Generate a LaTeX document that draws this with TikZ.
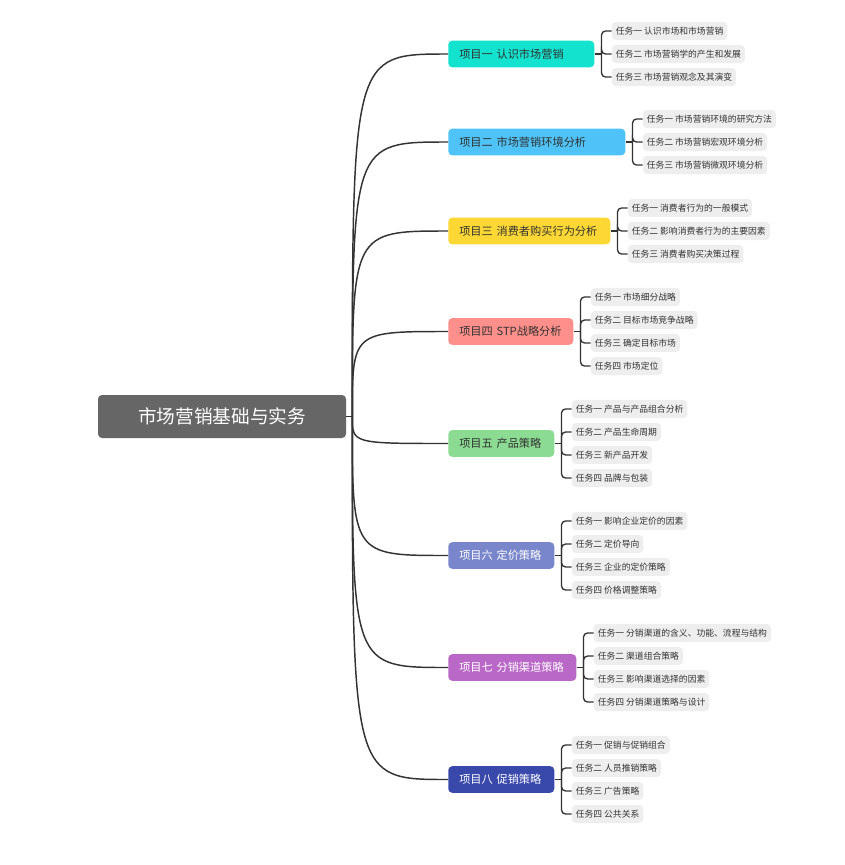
\documentclass[tikz,border=0pt]{standalone}
\usepackage{fontspec}
\setmainfont{Noto Sans CJK SC}
\usepackage{xcolor}
\usetikzlibrary{positioning}

\definecolor{rootgray}{HTML}{666666}
\definecolor{linegray}{HTML}{333333}
\definecolor{leafgray}{HTML}{EEEEEE}
\definecolor{cone}{HTML}{13E2CF}
\definecolor{ctwo}{HTML}{4FC3F7}
\definecolor{cthree}{HTML}{FDD835}
\definecolor{cfour}{HTML}{FF8F8A}
\definecolor{cfive}{HTML}{8BDB93}
\definecolor{csix}{HTML}{7986CB}
\definecolor{cseven}{HTML}{BA68C8}
\definecolor{ceight}{HTML}{3949AB}

\begin{document}
\begin{tikzpicture}[
    x=0.75pt, y=-0.75pt,
    rootbox/.style={rectangle, rounded corners=3pt, fill=rootgray, text=white, minimum width=186pt, minimum height=32.25pt, font=\fontsize{14pt}{16pt}\selectfont},
    branch/.style={rectangle, rounded corners=3pt, anchor=west, minimum height=20pt, inner xsep=8.25pt, align=left, text=linegray, font=\fontsize{8.4pt}{10pt}\selectfont},
    leaf/.style={rectangle, rounded corners=3pt, fill=leafgray, minimum height=13.5pt, inner xsep=3pt, inner ysep=1pt, text=linegray, font=\fontsize{6.6pt}{8pt}\selectfont},
    link/.style={draw=linegray, line width=1.1pt},
    tick/.style={draw=linegray, line width=1pt, rounded corners=3pt}
]
\useasboundingbox (0,0) rectangle (844,865);

% root and branches
\node[rootbox] (root) at (222,416.5) {市场营销基础与实务};
\node[branch, fill=cone, text width=93pt] (b1) at (448,54) {项目一 认识市场营销};
\node[branch, fill=ctwo, text width=116.25pt] (b2) at (448,142) {项目二 市场营销环境分析};
\node[branch, fill=cthree, text width=105pt] (b3) at (448,231) {项目三 消费者购买行为分析};
\node[branch, fill=cfour, text width=77.25pt] (b4) at (448,331.5) {项目四 STP战略分析};
\node[branch, fill=cfive, text width=63pt] (b5) at (448,443.5) {项目五 产品策略};
\node[branch, fill=csix, text=white, text width=63pt] (b6) at (448,555.5) {项目六 定价策略};
\node[branch, fill=cseven, text=white, text width=79.5pt] (b7) at (448,667.5) {项目七 分销渠道策略};
\node[branch, fill=ceight, text=white, text width=63pt] (b8) at (448,779.5) {项目八 促销策略};

% tasks
\node[leaf, right=12.75pt of b1, yshift=17.25pt] (l1a) {任务一 认识市场和市场营销};
\node[leaf, right=12.75pt of b1] (l1b) {任务二 市场营销学的产生和发展};
\node[leaf, right=12.75pt of b1, yshift=-17.25pt] (l1c) {任务三 市场营销观念及其演变};

\node[leaf, right=12.75pt of b2, yshift=17.25pt] (l2a) {任务一 市场营销环境的研究方法};
\node[leaf, right=12.75pt of b2] (l2b) {任务二 市场营销宏观环境分析};
\node[leaf, right=12.75pt of b2, yshift=-17.25pt] (l2c) {任务三 市场营销微观环境分析};

\node[leaf, right=12.75pt of b3, yshift=17.25pt] (l3a) {任务一 消费者行为的一般模式};
\node[leaf, right=12.75pt of b3] (l3b) {任务二 影响消费者行为的主要因素};
\node[leaf, right=12.75pt of b3, yshift=-17.25pt] (l3c) {任务三 消费者购买决策过程};

\node[leaf, right=12.75pt of b4, yshift=25.9pt] (l4a) {任务一 市场细分战略};
\node[leaf, right=12.75pt of b4, yshift=8.6pt] (l4b) {任务二 目标市场竞争战略};
\node[leaf, right=12.75pt of b4, yshift=-8.6pt] (l4c) {任务三 确定目标市场};
\node[leaf, right=12.75pt of b4, yshift=-25.9pt] (l4d) {任务四 市场定位};

\node[leaf, right=12.75pt of b5, yshift=25.9pt] (l5a) {任务一 产品与产品组合分析};
\node[leaf, right=12.75pt of b5, yshift=8.6pt] (l5b) {任务二 产品生命周期};
\node[leaf, right=12.75pt of b5, yshift=-8.6pt] (l5c) {任务三 新产品开发};
\node[leaf, right=12.75pt of b5, yshift=-25.9pt] (l5d) {任务四 品牌与包装};

\node[leaf, right=12.75pt of b6, yshift=25.9pt] (l6a) {任务一 影响企业定价的因素};
\node[leaf, right=12.75pt of b6, yshift=8.6pt] (l6b) {任务二 定价导向};
\node[leaf, right=12.75pt of b6, yshift=-8.6pt] (l6c) {任务三 企业的定价策略};
\node[leaf, right=12.75pt of b6, yshift=-25.9pt] (l6d) {任务四 价格调整策略};

\node[leaf, right=12.75pt of b7, yshift=25.9pt] (l7a) {任务一 分销渠道的含义、功能、流程与结构};
\node[leaf, right=12.75pt of b7, yshift=8.6pt] (l7b) {任务二 渠道组合策略};
\node[leaf, right=12.75pt of b7, yshift=-8.6pt] (l7c) {任务三 影响渠道选择的因素};
\node[leaf, right=12.75pt of b7, yshift=-25.9pt] (l7d) {任务四 分销渠道策略与设计};

\node[leaf, right=12.75pt of b8, yshift=25.9pt] (l8a) {任务一 促销与促销组合};
\node[leaf, right=12.75pt of b8, yshift=8.6pt] (l8b) {任务二 人员推销策略};
\node[leaf, right=12.75pt of b8, yshift=-8.6pt] (l8c) {任务三 广告策略};
\node[leaf, right=12.75pt of b8, yshift=-25.9pt] (l8d) {任务四 公共关系};

% root to branches
\draw[link] (root.east) -- ++(6,0) coordinate (hub);
\draw[link] (hub) .. controls (hub |- b1.west) .. (b1.west);
\draw[link] (hub) .. controls (hub |- b2.west) .. (b2.west);
\draw[link] (hub) .. controls (hub |- b3.west) .. (b3.west);
\draw[link] (hub) .. controls (hub |- b4.west) .. (b4.west);
\draw[link] (hub) .. controls (hub |- b5.west) .. (b5.west);
\draw[link] (hub) .. controls (hub |- b6.west) .. (b6.west);
\draw[link] (hub) .. controls (hub |- b7.west) .. (b7.west);
\draw[link] (hub) .. controls (hub |- b8.west) .. (b8.west);

% branches to tasks
\draw[tick] (b1.east) -- ++(7,0) coordinate (j1);
\draw[tick] (j1) |- (l1a.west);
\draw[tick] (j1) |- (l1b.west);
\draw[tick] (j1) |- (l1c.west);

\draw[tick] (b2.east) -- ++(7,0) coordinate (j2);
\draw[tick] (j2) |- (l2a.west);
\draw[tick] (j2) |- (l2b.west);
\draw[tick] (j2) |- (l2c.west);

\draw[tick] (b3.east) -- ++(7,0) coordinate (j3);
\draw[tick] (j3) |- (l3a.west);
\draw[tick] (j3) |- (l3b.west);
\draw[tick] (j3) |- (l3c.west);

\draw[tick] (b4.east) -- ++(7,0) coordinate (j4);
\draw[tick] (j4) |- (l4a.west);
\draw[tick] (j4) |- (l4b.west);
\draw[tick] (j4) |- (l4c.west);
\draw[tick] (j4) |- (l4d.west);

\draw[tick] (b5.east) -- ++(7,0) coordinate (j5);
\draw[tick] (j5) |- (l5a.west);
\draw[tick] (j5) |- (l5b.west);
\draw[tick] (j5) |- (l5c.west);
\draw[tick] (j5) |- (l5d.west);

\draw[tick] (b6.east) -- ++(7,0) coordinate (j6);
\draw[tick] (j6) |- (l6a.west);
\draw[tick] (j6) |- (l6b.west);
\draw[tick] (j6) |- (l6c.west);
\draw[tick] (j6) |- (l6d.west);

\draw[tick] (b7.east) -- ++(7,0) coordinate (j7);
\draw[tick] (j7) |- (l7a.west);
\draw[tick] (j7) |- (l7b.west);
\draw[tick] (j7) |- (l7c.west);
\draw[tick] (j7) |- (l7d.west);

\draw[tick] (b8.east) -- ++(7,0) coordinate (j8);
\draw[tick] (j8) |- (l8a.west);
\draw[tick] (j8) |- (l8b.west);
\draw[tick] (j8) |- (l8c.west);
\draw[tick] (j8) |- (l8d.west);
\end{tikzpicture}
\end{document}
